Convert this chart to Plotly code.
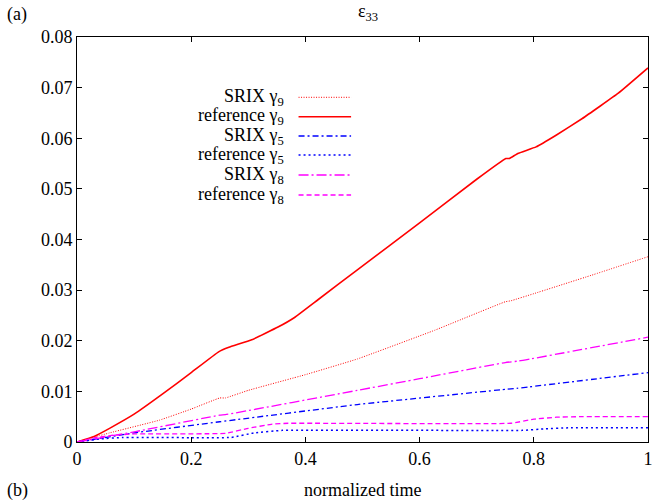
import plotly.graph_objects as go

# ---- data ----
t_ref9 = [0, 0.03, 0.057, 0.1, 0.15, 0.2, 0.248, 0.266, 0.306, 0.352, 0.381, 0.422,
          0.491, 0.6, 0.7, 0.751, 0.757, 0.772, 0.804, 0.839, 0.885, 0.948, 1.0]
v_ref9 = [0, 0.0011, 0.0027, 0.0055, 0.0095, 0.0137, 0.0178, 0.0187, 0.0202, 0.0227,
          0.0246, 0.0281, 0.0340, 0.0433, 0.0519, 0.0560, 0.0560, 0.0570, 0.0583, 0.0606,
          0.0639, 0.0689, 0.0739]

t_srix9 = [0, 0.057, 0.144, 0.2, 0.25, 0.26, 0.3, 0.4, 0.491, 0.627, 0.75, 0.76, 0.8, 0.9, 1.0]
v_srix9 = [0, 0.0018, 0.0043, 0.0065, 0.0087, 0.0087, 0.0102, 0.0133, 0.0164, 0.0221, 0.0277,
           0.0279, 0.0293, 0.0329, 0.0366]

t_srix5 = [0, 0.1, 0.25, 0.491, 0.75, 0.77, 1.0]
v_srix5 = [0, 0.0018, 0.0040, 0.0074, 0.0104, 0.0106, 0.0137]

t_ref5 = [0, 0.04, 0.08, 0.27, 0.31, 0.36, 0.78, 0.82, 0.86, 1.0]
v_ref5 = [0, 0.0006, 0.0009, 0.0009, 0.0018, 0.0023, 0.0023, 0.0026, 0.0028, 0.0028]

t_srix8 = [0, 0.1, 0.25, 0.26, 0.491, 0.6, 0.75, 0.774, 1.0]
v_srix8 = [0, 0.0020, 0.0053, 0.0054, 0.0102, 0.0125, 0.0157, 0.0160, 0.0207]

t_ref8 = [0, 0.03, 0.06, 0.1, 0.26, 0.3, 0.34, 0.37, 0.76, 0.8, 0.84, 0.88, 1.0]
v_ref8 = [0, 0.0008, 0.0013, 0.0016, 0.0017, 0.0027, 0.0035, 0.0037, 0.0037, 0.0045,
          0.0049, 0.0050, 0.0050]

labels = ["SRIX γ<sub>9</sub>", "reference γ<sub>9</sub>", "SRIX γ<sub>5</sub>",
          "reference γ<sub>5</sub>", "SRIX γ<sub>8</sub>", "reference γ<sub>8</sub>"]
y_ticks = [0, 0.01, 0.02, 0.03, 0.04, 0.05, 0.06, 0.07, 0.08]
y_tick_text = ["0", "0.01", "0.02", "0.03", "0.04", "0.05", "0.06", "0.07", "0.08"]
x_ticks = [0, 0.2, 0.4, 0.6, 0.8, 1]
x_tick_text = ["0", "0.2", "0.4", "0.6", "0.8", "1"]

RED, BLUE, MAG = "#ff0000", "#0000ff", "#ff00ff"
styles = [
    (RED, "1px,1.5px", 1.0),
    (RED, "solid", 1.6),
    (BLUE, "6px,3px,2px,3px", 1.3),
    (BLUE, "2px,3px", 1.5),
    (MAG, "10px,3px,2px,3px", 1.3),
    (MAG, "5px,3px", 1.3),
]
series = [(t_srix9, v_srix9), (t_ref9, v_ref9), (t_srix5, v_srix5),
          (t_ref5, v_ref5), (t_srix8, v_srix8), (t_ref8, v_ref8)]

FONT = "Liberation Serif, Times New Roman, DejaVu Serif, serif"
fig = go.Figure()
for (t, v), (c, d, w), name in zip(series, styles, labels):
    fig.add_trace(go.Scatter(x=t, y=v, mode="lines", name=name,
                             line=dict(color=c, dash=d, width=w, shape="spline",
                                       smoothing=0.3),
                             showlegend=False))

# custom legend (text left of the sample line, gnuplot style)
row_y = [97.3, 116.7, 136, 155, 175, 195]
H0, H = 37, 405
for ry, name, (c, d, w) in zip(row_y, labels, styles):
    yp = 1 - (ry - H0) / H
    fig.add_annotation(xref="paper", yref="paper", x=0.366, y=yp, text=name,
                       showarrow=False, xanchor="right", yanchor="middle",
                       font=dict(family=FONT, size=18, color="black"))
    fig.add_shape(type="line", xref="paper", yref="paper", x0=0.388, x1=0.480,
                  y0=yp, y1=yp, line=dict(color=c, dash=d, width=w))

fig.add_annotation(xref="paper", yref="paper", x=-0.105, y=1.0 + 23 / H, text="(a)",
                   showarrow=False, xanchor="center", yanchor="middle",
                   font=dict(family=FONT, size=18, color="black"))
fig.add_annotation(xref="paper", yref="paper", x=-0.105, y=-48 / H, text="(b)",
                   showarrow=False, xanchor="center", yanchor="middle",
                   font=dict(family=FONT, size=18, color="black"))
fig.add_annotation(xref="paper", yref="paper", x=0.51, y=1.0 + 24 / H,
                   text="ε<sub>33</sub>", showarrow=False, xanchor="center",
                   yanchor="middle", font=dict(family=FONT, size=18, color="black"))
fig.add_annotation(xref="paper", yref="paper", x=0.5, y=-48 / H, text="normalized time",
                   showarrow=False, xanchor="center", yanchor="middle",
                   font=dict(family=FONT, size=18, color="black"))

axis_common = dict(showgrid=False, zeroline=False, showline=True, linecolor="black",
                   linewidth=1, mirror="allticks", ticks="inside", ticklen=5,
                   tickcolor="black", tickfont=dict(family=FONT, size=18, color="black"))
fig.update_xaxes(range=[0, 1], tickvals=x_ticks, ticktext=x_tick_text, **axis_common)
fig.update_yaxes(range=[0, 0.08], tickvals=y_ticks, ticktext=y_tick_text, **axis_common)

fig.update_layout(width=658, height=501, margin=dict(l=77, r=5, t=37, b=59),
                  plot_bgcolor="white", paper_bgcolor="white",
                  font=dict(family=FONT, size=18, color="black"))
fig.write_html("out.html", config={"displayModeBar": False},
               post_script="document.body.style.margin='0';"
                           "document.body.style.padding='0';"
                           "document.body.style.overflow='hidden';")
